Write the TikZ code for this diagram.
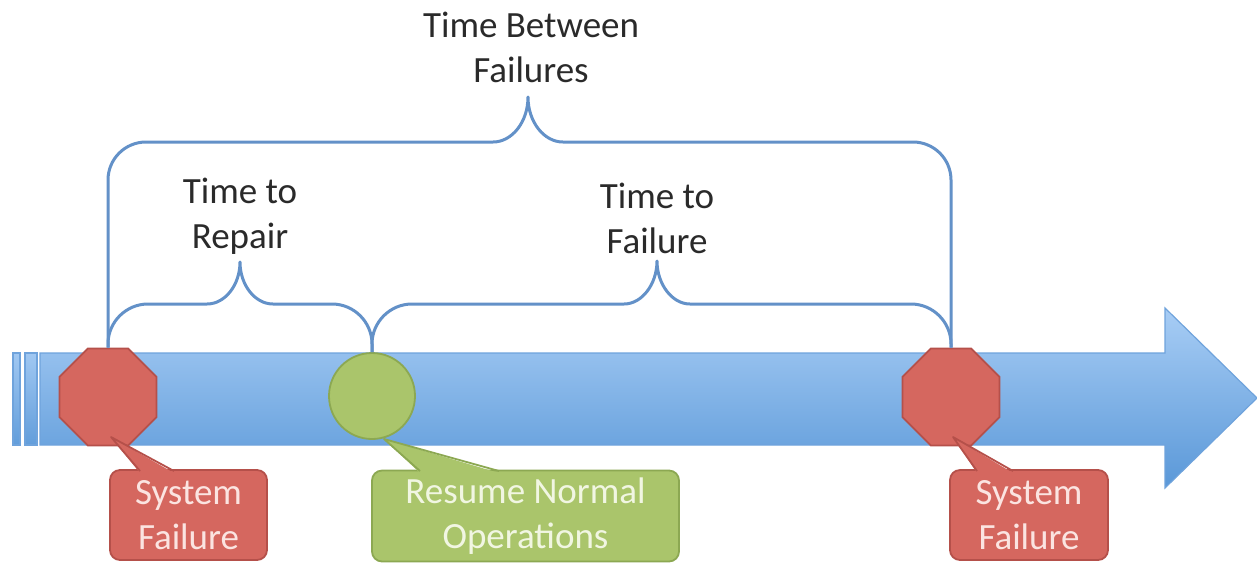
\documentclass[tikz,border=0pt]{standalone}
\usepackage{fontspec}
\setmainfont{Carlito}
\usetikzlibrary{shapes.geometric}
\definecolor{barTop}{HTML}{A8CDF5}
\definecolor{barBot}{HTML}{5A98D8}
\definecolor{barLine}{HTML}{6FA3DC}
\definecolor{braceC}{HTML}{6391C8}
\definecolor{redF}{HTML}{D5675F}
\definecolor{redD}{HTML}{B5504A}
\definecolor{redT}{HTML}{FBE4E1}
\definecolor{greenF}{HTML}{AAC56B}
\definecolor{greenD}{HTML}{8CA852}
\definecolor{greenT}{HTML}{F1F6E2}
\definecolor{txt}{HTML}{2A2A2A}
\begin{document}
\begin{tikzpicture}[x=0.5pt,y=-0.5pt,
  lbl/.style={align=center,text=txt,inner sep=0pt,font=\fontsize{18.5}{22.5}\selectfont},
  bracepath/.style={draw=braceC,line width=1.5pt,line join=round},
  octa/.style={regular polygon,regular polygon sides=8,minimum size=52.5pt,inner sep=0pt,fill=redF,draw=redD,line width=0.9pt},
  redbox/.style={rectangle,rounded corners=5pt,fill=redF,draw=redD,line width=0.9pt,text=redT,align=center,inner sep=0pt,font=\fontsize{18.5}{22.5}\selectfont},
  greenbox/.style={rectangle,rounded corners=5pt,fill=greenF,draw=greenD,line width=0.9pt,text=greenT,align=center,inner sep=0pt,font=\fontsize{18.5}{22.5}\selectfont}]
\useasboundingbox (0,0) rectangle (1257,564);
% timeline arrow
\shade[top color=barTop!90!barBot,bottom color=barBot!90!barTop] (13,353) rectangle (20,445);
\shade[top color=barTop!90!barBot,bottom color=barBot!90!barTop] (25,353) rectangle (37,445);
\draw[barLine,line width=0.6pt] (13,353) rectangle (20,445) (25,353) rectangle (37,445);
\shade[top color=barTop,bottom color=barBot,draw=barLine,line width=0.6pt]
  (40,353) -- (1165,353) -- (1165,308) -- (1257,398) -- (1165,488) -- (1165,445) -- (40,445) -- cycle;
% markers
\node[octa] (oct1) at (108,397) {};
\node[octa] (oct2) at (951,397) {};
\node[circle,minimum size=43pt,inner sep=0pt,fill=greenF,draw=greenD,line width=0.9pt] (circ) at (372,396) {};
% braces
\draw[bracepath] (oct1.north) -- (108,180) .. controls +(0,-21) and +(-21,0) .. (146,142)
  -- (493,142) .. controls +(19,0) and +(0,25) .. (528,97)
  .. controls +(0,25) and +(-19,0) .. (563,142) -- (913,142)
  .. controls +(21,0) and +(0,-21) .. (951,180) -- (oct2.north);
\draw[bracepath] (oct1.north) -- (108,344) .. controls +(0,-22) and +(-22,0) .. (148,304)
  -- (207,304) .. controls +(18,0) and +(0,23) .. (240,262)
  .. controls +(0,23) and +(-18,0) .. (273,304) -- (332,304)
  .. controls +(22,0) and +(0,-22) .. (372,344) -- (circ.north);
\draw[bracepath] (circ.north) -- (372,344) .. controls +(0,-22) and +(-22,0) .. (412,304)
  -- (624,304) .. controls +(18,0) and +(0,23) .. (657,261)
  .. controls +(0,23) and +(-18,0) .. (690,304) -- (911,304)
  .. controls +(22,0) and +(0,-22) .. (951,344) -- (oct2.north);
% labels
\node[lbl] (tbf) at (531,47) {Time Between\\Failures};
\node[lbl] (ttr) at (240,216) {Time to\\Repair};
\node[lbl] (ttf) at (657,218) {Time to\\Failure};
% callouts
\node[redbox,minimum width=78.5pt,minimum height=45pt] (sf1) at (188.5,515) {System\\Failure};
\node[greenbox,minimum width=153.5pt,minimum height=45.5pt] (rno) at (525.5,516) {Resume Normal\\Operations};
\node[redbox,minimum width=79pt,minimum height=45pt] (sf2) at (1029,515) {System\\Failure};
% callout wedges
\coordinate (w1a) at (140,471); \coordinate (w1t) at (111,437); \coordinate (w1b) at (174,471);
\coordinate (w2a) at (420,471); \coordinate (w2t) at (384,439); \coordinate (w2b) at (499,471);
\coordinate (w3a) at (977,471); \coordinate (w3t) at (953,437); \coordinate (w3b) at (1013,471);
\fill[redF] ([yshift=-1pt]w1a) -- (w1t) -- ([yshift=-1pt]w1b) -- cycle;
\draw[redD,line width=0.9pt,line join=round] (w1a) -- (w1t) -- (w1b);
\fill[greenF] ([yshift=-1pt]w2a) -- (w2t) -- ([yshift=-1pt]w2b) -- cycle;
\draw[greenD,line width=0.9pt,line join=round] (w2a) -- (w2t) -- (w2b);
\fill[redF] ([yshift=-1pt]w3a) -- (w3t) -- ([yshift=-1pt]w3b) -- cycle;
\draw[redD,line width=0.9pt,line join=round] (w3a) -- (w3t) -- (w3b);
\end{tikzpicture}
\end{document}
